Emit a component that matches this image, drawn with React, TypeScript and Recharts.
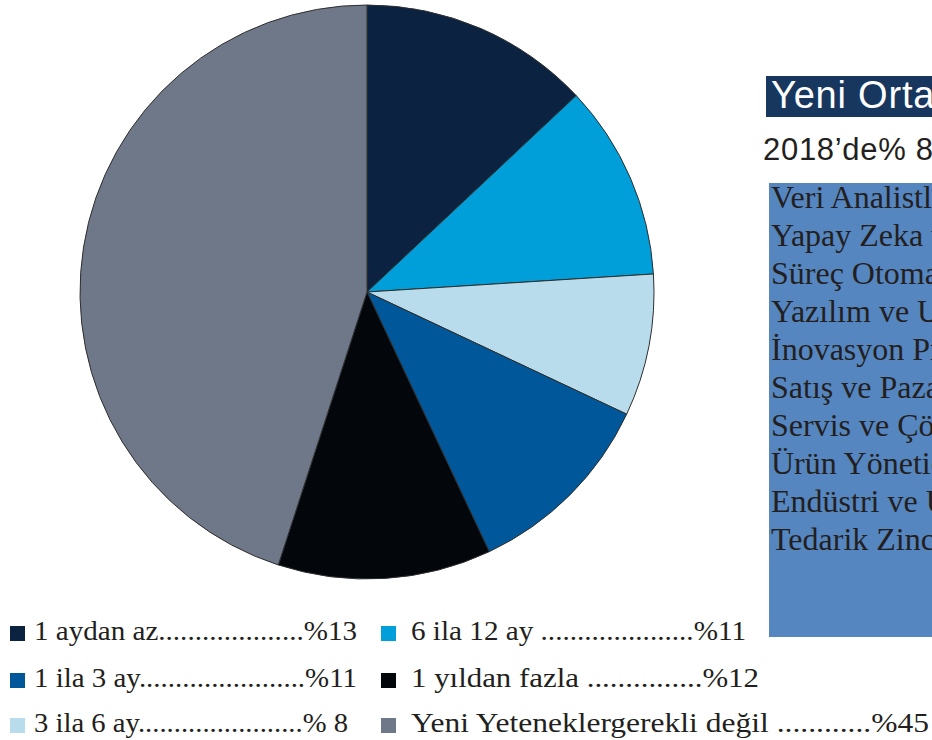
import React from 'react';
import { PieChart, Pie, Cell } from 'recharts';

// ---- data ----
const sliceNames = ['1 aydan az', '6 ila 12 ay', '3 ila 6 ay', '1 ila 3 ay', '1 yıldan fazla', 'Yeni Yeteneklergerekli değil'];
const sliceValues = [13, 11, 8, 11, 12, 45];
const sliceColors = ['#0b2341', '#009fda', '#b8dceb', '#00589a', '#03070c', '#6e7889'];

const legendColumn1 = ['1 aydan az', '1 ila 3 ay', '3 ila 6 ay'];
const legendColumn2 = ['6 ila 12 ay', '1 yıldan fazla', 'Yeni Yeteneklergerekli değil'];

const titleText = 'Yeni Ortaya Çıkan Roller';
const subtitleText = '2018’de% 8’den 2022’de %27’ye';
const roleList = [
  'Veri Analistleri ve Bilim İnsanları',
  'Yapay Zeka ve Makine Öğrenimi Uzmanları',
  'Süreç Otomasyonu Uzmanları',
  'Yazılım ve Uygulama Geliştiricileri',
  'İnovasyon Profesyonelleri',
  'Satış ve Pazarlama Profesyonelleri',
  'Servis ve Çözüm Tasarımcıları',
  'Ürün Yöneticileri',
  'Endüstri ve Üretim Uzmanları',
  'Tedarik Zinciri ve Lojistik Uzmanları',
];

// ---- layout (typography of the legend rows) ----
const col1Layout = { x: 10, textX: 34, ends: [357, 357, 348], dots: [20, 23, 23], space: false };
const col2Layout = { x: 381, textX: 411, ends: [746, 759, 929], dots: [21, 15, 12], space: true };
const rowBaselines = [640, 687, 732];

const pieData = sliceNames.map((name, i) => ({ name, value: sliceValues[i] }));

const serif = '"Liberation Serif", "Times New Roman", Times, serif';
const sans = '"Liberation Sans", Arial, Helvetica, sans-serif';

function fmtValue(v: number) {
  return v < 10 ? '% ' + v : '%' + v;
}

function LegendColumn({ names, layout }: { names: string[]; layout: typeof col1Layout }) {
  return (
    <g>
      {names.map((name, r) => {
        const idx = sliceNames.indexOf(name);
        const value = sliceValues[idx];
        const color = sliceColors[idx];
        const text = name + (layout.space ? ' ' : '') + '.'.repeat(layout.dots[r]) + fmtValue(value);
        const y = rowBaselines[r];
        return (
          <g key={name}>
            <rect x={layout.x} y={y - 14} width={15} height={15} fill={color} />
            <text
              x={layout.textX}
              y={y}
              fontFamily={serif}
              fontSize={27}
              fill="#231f20"
              textLength={layout.ends[r] - layout.textX}
              lengthAdjust="spacingAndGlyphs"
            >
              {text}
            </text>
          </g>
        );
      })}
    </g>
  );
}

export default function App() {
  return (
    <div style={{ position: 'fixed', left: 0, top: 0, width: 932, height: 740, overflow: 'hidden', background: '#ffffff' }}>
      <div style={{ position: 'absolute', left: 0, top: 0 }}>
        <PieChart width={932} height={740} margin={{ top: 0, right: 0, bottom: 0, left: 0 }}>
          <Pie
            data={pieData}
            dataKey="value"
            nameKey="name"
            cx={367}
            cy={292}
            outerRadius={287}
            innerRadius={0}
            startAngle={90}
            endAngle={-270}
            stroke="#2e2e2e"
            strokeWidth={1}
            isAnimationActive={false}
            label={false}
            labelLine={false}
          >
            {pieData.map((d, i) => (
              <Cell key={d.name} fill={sliceColors[i]} stroke="#2e2e2e" strokeWidth={1} />
            ))}
          </Pie>
        </PieChart>
      </div>
      <svg
        width={932}
        height={740}
        style={{ position: 'absolute', left: 0, top: 0, pointerEvents: 'none', overflow: 'hidden' }}
      >
        {/* title */}
        <rect x={766} y={76} width={180} height={41} fill="#17375e" />
        <text x={771} y={108} fontFamily={sans} fontSize={38} letterSpacing={0.8} fill="#ffffff">
          {titleText}
        </text>
        <text x={763} y={160} fontFamily={sans} fontSize={31} letterSpacing={0.7} fill="#231f20">
          {subtitleText}
        </text>
        {/* roles box */}
        <rect x={769} y={183} width={180} height={454} fill="#5586c0" />
        {roleList.map((role, i) => (
          <text key={role} x={771} y={208 + i * 38} fontFamily={serif} fontSize={32} fill="#231f20">
            {role}
          </text>
        ))}
        <LegendColumn names={legendColumn1} layout={col1Layout} />
        <LegendColumn names={legendColumn2} layout={col2Layout} />
      </svg>
    </div>
  );
}
